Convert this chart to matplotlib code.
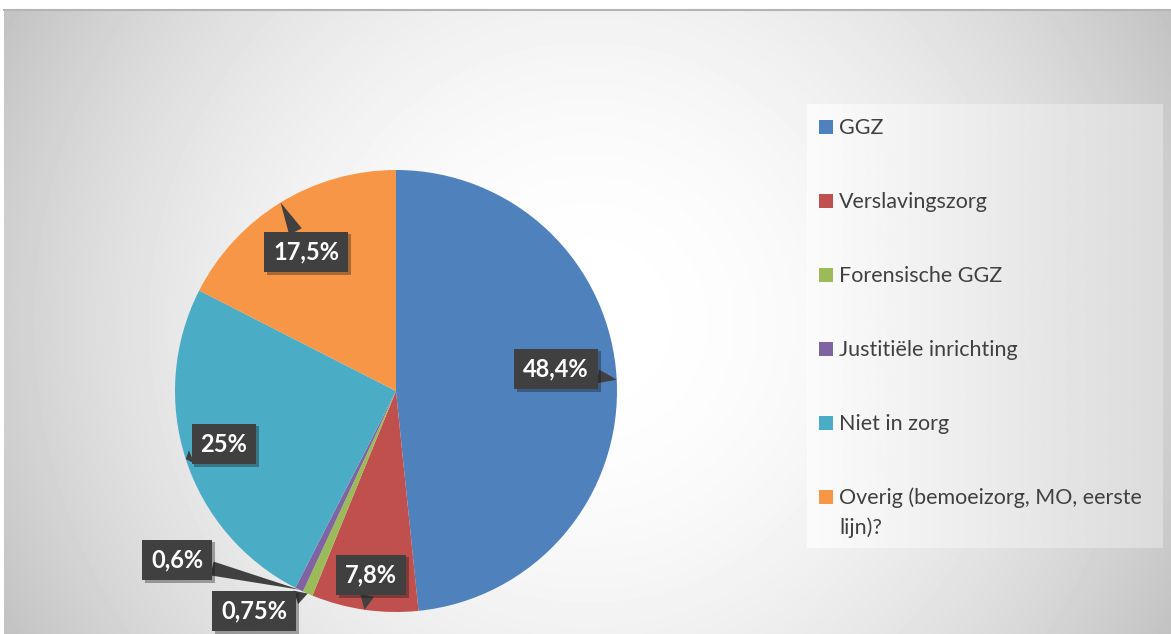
import numpy as np
import matplotlib.pyplot as plt
from matplotlib.patches import Rectangle
import matplotlib.patheffects as pe

plt.rcParams['font.family'] = ['Lato', 'DejaVu Sans']

categorieen = ['GGZ', 'Verslavingszorg', 'Forensische GGZ', 'Justitiële inrichting',
               'Niet in zorg', 'Overig (bemoeizorg, MO, eerste\nlijn)?']
percentages = [48.4, 7.8, 0.75, 0.6, 25, 17.5]
labels = ['48,4%', '7,8%', '0,75%', '0,6%', '25%', '17,5%']
kleuren = ['#4F81BD', '#C0504D', '#9BBB59', '#8064A2', '#4BACC6', '#F79646']

# plek van de labelboxen in pixels (vanaf linksboven)
label_pos = [(556, 369), (371, 575), (254, 611), (177, 560), (224, 444), (306, 252)]
legenda_y = [127, 201, 275, 349, 423, 497]

W, H = 1171, 634
fig = plt.figure(figsize=(W / 100, H / 100), dpi=100)
ax = fig.add_axes([0, 0, 1, 1])

# achtergrond met radiale gradient
x0, y0 = 4, 10
yy, xx = np.mgrid[y0:H, x0:W]
cx, cy = (x0 + W) / 2, (y0 + H) / 2
d = np.hypot(xx - cx, yy - cy)
d = d / d.max()
bg = 1 - 0.24 * d ** 2
ax.imshow(bg, cmap='gray', vmin=0, vmax=1, extent=(x0, W, 0, H - y0),
          origin='upper', zorder=0)
ax.plot([x0, W], [H - y0, H - y0], color='#b4b4b4', lw=1.5, zorder=1)

# legenda vak
lx0, lx1, ly0, ly1 = 807, 1163, 104, 548
grad = np.tile(np.linspace(0.985, 0.86, 200), (10, 1))
ax.imshow(grad, cmap='gray', vmin=0, vmax=1, extent=(lx0, lx1, H - ly1, H - ly0),
          aspect='auto', zorder=1)

# taart
wedges, _ = ax.pie(percentages, colors=kleuren, startangle=90, counterclock=False,
                   center=(396, H - 391), radius=221,
                   wedgeprops=dict(linewidth=0))
for w in wedges:
    w.set_zorder(2)

for w, lab, (px, py) in zip(wedges, labels, label_pos):
    ang = np.deg2rad((w.theta1 + w.theta2) / 2)
    tip = (w.center[0] + w.r * np.cos(ang), w.center[1] + w.r * np.sin(ang))
    t = ax.annotate(lab, xy=tip, xytext=(px, H - py), ha='center', va='center',
                    color='white', fontsize=17, fontweight='bold', zorder=5,
                    bbox=dict(boxstyle='square,pad=0.38', fc='#404040', ec='none'),
                    arrowprops=dict(arrowstyle='wedge,tail_width=0.6,shrink_factor=0.5',
                                    fc='#404040', ec='none', shrinkA=0, shrinkB=0))
    t.get_bbox_patch().set_path_effects([pe.SimplePatchShadow(offset=(2, -2), alpha=0.35),
                                         pe.Normal()])

# legenda items
for naam, kleur, y in zip(categorieen, kleuren, legenda_y):
    ax.add_patch(Rectangle((819, H - y - 7), 14, 14, fc=kleur, ec='none', zorder=3))
    for i, regel in enumerate(naam.split('\n')):
        ax.text(839, H - (y + 7 + i * 30), regel, fontsize=15.5, color='#404040',
                va='baseline', ha='left', zorder=3)

ax.set_xlim(0, W)
ax.set_ylim(0, H)
ax.set_aspect('auto')
ax.axis('off')

fig.savefig('out.png', dpi=100, facecolor='white')
